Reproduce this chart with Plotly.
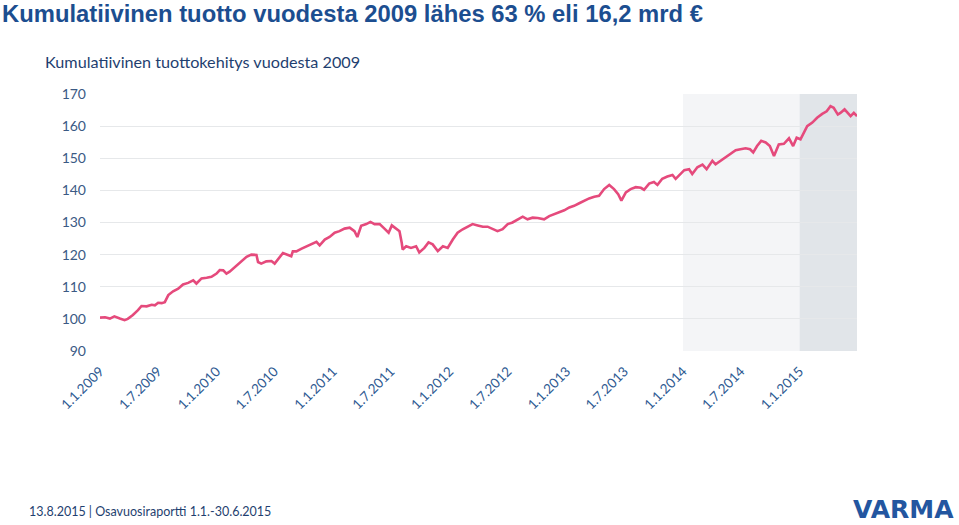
import plotly.graph_objects as go

# ---- data ----
dates = [
    "2009-01-01", "2009-01-17", "2009-02-01", "2009-02-15", "2009-03-04", "2009-03-19", "2009-03-29",
    "2009-04-14", "2009-04-30", "2009-05-11", "2009-05-27", "2009-06-12", "2009-06-22", "2009-07-02",
    "2009-07-13", "2009-07-23", "2009-08-03", "2009-08-18", "2009-09-03", "2009-09-18", "2009-10-04",
    "2009-10-20", "2009-10-30", "2009-11-15", "2009-12-01", "2009-12-16", "2010-01-01", "2010-01-11",
    "2010-01-22", "2010-02-01", "2010-02-11", "2010-02-22", "2010-03-04", "2010-03-20", "2010-04-05",
    "2010-04-20", "2010-05-06", "2010-05-11", "2010-05-21", "2010-06-06", "2010-06-22", "2010-07-02",
    "2010-07-13", "2010-07-28", "2010-08-13", "2010-08-23", "2010-08-28", "2010-09-08", "2010-09-23",
    "2010-10-09", "2010-10-25", "2010-11-10", "2010-11-20", "2010-12-06", "2010-12-21", "2011-01-06",
    "2011-01-21", "2011-02-06", "2011-02-22", "2011-03-09", "2011-03-18", "2011-03-30", "2011-04-15",
    "2011-04-28", "2011-05-11", "2011-05-27", "2011-06-11", "2011-06-24", "2011-07-04", "2011-07-18",
    "2011-07-28", "2011-08-04", "2011-08-07", "2011-08-18", "2011-09-02", "2011-09-18", "2011-09-28",
    "2011-10-14", "2011-10-27", "2011-11-09", "2011-11-25", "2011-12-11", "2011-12-26", "2012-01-11",
    "2012-01-26", "2012-02-11", "2012-02-27", "2012-03-13", "2012-03-29", "2012-04-14", "2012-04-29",
    "2012-05-15", "2012-05-30", "2012-06-15", "2012-07-01", "2012-07-16", "2012-08-01", "2012-08-17",
    "2012-09-01", "2012-09-17", "2012-10-03", "2012-10-23", "2012-11-08", "2012-11-24", "2012-12-09",
    "2012-12-25", "2013-01-10", "2013-01-25", "2013-02-10", "2013-02-26", "2013-03-13", "2013-03-29",
    "2013-04-13", "2013-04-29", "2013-05-15", "2013-05-30", "2013-06-12", "2013-06-22", "2013-07-06",
    "2013-07-21", "2013-08-06", "2013-08-22", "2013-09-01", "2013-09-17", "2013-10-02", "2013-10-13",
    "2013-10-28", "2013-11-13", "2013-11-29", "2013-12-09", "2013-12-20", "2014-01-05", "2014-01-20",
    "2014-01-30", "2014-02-15", "2014-03-03", "2014-03-16", "2014-04-03", "2014-04-13", "2014-04-29",
    "2014-05-15", "2014-05-30", "2014-06-15", "2014-06-30", "2014-07-16", "2014-07-30", "2014-08-09",
    "2014-08-21", "2014-09-03", "2014-09-17", "2014-09-30", "2014-10-13", "2014-10-28", "2014-11-13",
    "2014-11-29", "2014-12-12", "2014-12-23", "2015-01-04", "2015-01-15", "2015-01-25", "2015-02-10",
    "2015-02-25", "2015-03-13", "2015-03-27", "2015-04-08", "2015-04-18", "2015-05-01", "2015-05-09",
    "2015-05-22", "2015-06-01", "2015-06-10", "2015-06-20", "2015-06-30",
]
index_values = [
    100.4, 100.5, 100.1, 100.8, 100.1, 99.6, 100.0,
    101.2, 102.7, 104.0, 103.9, 104.4, 104.2, 105.0,
    104.9, 105.2, 107.4, 108.6, 109.4, 110.7, 111.2,
    112.0, 111.0, 112.6, 112.8, 113.1, 114.1, 115.2,
    115.1, 114.1, 114.7, 115.6, 116.6, 117.7, 119.3,
    120.0, 119.9, 117.7, 117.2, 117.9, 118.0, 117.2,
    118.7, 120.5, 119.9, 119.5, 121.0, 121.0, 121.8,
    122.6, 123.2, 124.0, 122.9, 124.7, 125.5, 126.8,
    127.3, 128.1, 128.4, 127.3, 125.5, 129.0, 129.5,
    130.2, 129.5, 129.5, 128.1, 126.8, 129.1, 127.9,
    127.3, 123.7, 121.6, 122.6, 122.1, 122.6, 120.7,
    122.1, 123.8, 123.2, 121.1, 122.6, 122.1, 124.7,
    126.8, 127.9, 128.7, 129.5, 129.1, 128.7, 128.7,
    127.9, 127.3, 127.9, 129.5, 130.0, 131.0, 131.8,
    131.0, 131.5, 131.4, 131.0, 132.0, 132.6, 133.3,
    133.8, 134.7, 135.2, 136.0, 136.8, 137.5, 138.0,
    138.3, 140.4, 141.7, 140.4, 138.8, 136.8, 139.4,
    140.4, 141.0, 140.8, 140.2, 142.1, 142.6, 141.7,
    143.6, 144.3, 144.8, 143.6, 144.6, 146.3, 146.6,
    145.1, 147.2, 148.0, 146.6, 149.2, 148.1, 149.2,
    150.4, 151.5, 152.5, 152.8, 153.1, 152.8, 151.8,
    153.8, 155.4, 154.9, 153.8, 150.7, 154.3, 154.5,
    156.2, 153.8, 156.4, 155.9, 158.0, 160.0, 161.1,
    162.6, 163.8, 164.6, 166.2, 165.7, 163.6, 164.1,
    165.2, 164.1, 163.1, 164.1, 163.1,
]

tick_dates = [
    "2009-01-01", "2009-07-01", "2010-01-01", "2010-07-01", "2011-01-01", "2011-07-01",
    "2012-01-01", "2012-07-01", "2013-01-01", "2013-07-01", "2014-01-01", "2014-07-01",
    "2015-01-01",
]
tick_labels = [
    "1.1.2009", "1.7.2009", "1.1.2010", "1.7.2010", "1.1.2011", "1.7.2011",
    "1.1.2012", "1.7.2012", "1.1.2013", "1.7.2013", "1.1.2014", "1.7.2014",
    "1.1.2015",
]
y_ticks = [90, 100, 110, 120, 130, 140, 150, 160, 170]

title_text = "Kumulatiivinen tuotto vuodesta 2009 lähes 63 % eli 16,2 mrd €"
subtitle_text = "Kumulatiivinen tuottokehitys vuodesta 2009"
footer_text = "13.8.2015 | Osavuosiraportti 1.1.-30.6.2015"
logo_text = "VARMA"

# ---- layout constants ----
W, H = 959, 525
ML, MR, MT, MB = 100, 102, 94, 174
PW = W - ML - MR
PH = H - MT - MB


def px_x(px):
    return (px - ML) / PW


def px_y(py):
    return (H - MB - py) / PH


fig = go.Figure()
fig.add_trace(go.Scatter(
    x=dates, y=index_values, mode="lines",
    line=dict(color="#E54A7C", width=2.6),
    hoverinfo="skip", showlegend=False,
))

fig.add_shape(type="rect", xref="x", yref="paper", x0="2014-01-01", x1="2015-01-01",
              y0=0, y1=1, fillcolor="#F4F5F7", line_width=0, layer="between")
fig.add_shape(type="rect", xref="x", yref="paper", x0="2015-01-01", x1="2015-06-30",
              y0=0, y1=1, fillcolor="#E1E5E9", line_width=0, layer="between")

tick_font = dict(family="Lato, Open Sans, sans-serif", size=14, color="#3B5A84")

fig.update_layout(
    width=W, height=H,
    margin=dict(l=ML, r=MR, t=MT, b=MB),
    paper_bgcolor="white", plot_bgcolor="white",
    xaxis=dict(
        type="date", range=["2009-01-01", "2015-06-30"],
        tickmode="array", tickvals=tick_dates, ticktext=tick_labels,
        tickangle=-45, showgrid=False, zeroline=False, showline=False,
        ticks="", tickfont=dict(family="Lato, Open Sans, sans-serif", size=13.5, color="#2E5A92"),
        ticklabelstandoff=9,
    ),
    yaxis=dict(
        range=[90, 170], tickmode="array", tickvals=y_ticks,
        showgrid=True, gridcolor="#E6E8EA", gridwidth=1, zeroline=False,
        showline=False, ticks="", tickfont=tick_font, ticklabelstandoff=13,
    ),
    annotations=[
        dict(text="<b>" + title_text + "</b>", xref="paper", yref="paper",
             x=px_x(0), y=px_y(13), xanchor="left", yanchor="middle", showarrow=False,
             font=dict(family="Liberation Sans, Arial, sans-serif", size=23.8, color="#1C4E90")),
        dict(text=subtitle_text, xref="paper", yref="paper",
             x=px_x(43), y=px_y(61), xanchor="left", yanchor="middle", showarrow=False,
             font=dict(family="Lato, Open Sans, sans-serif", size=16.2, color="#1F3F70")),
        dict(text=footer_text, xref="paper", yref="paper",
             x=px_x(27), y=px_y(511), xanchor="left", yanchor="middle", showarrow=False,
             font=dict(family="Lato, Open Sans, sans-serif", size=12.5, color="#1F3F70")),
        dict(text="<b>" + logo_text + "</b>", xref="paper", yref="paper",
             x=px_x(956), y=px_y(509), xanchor="right", yanchor="middle", showarrow=False,
             font=dict(family="DejaVu Sans, sans-serif", size=25, color="#2356A0")),
    ],
)

fig.write_html(
    "out.html",
    config={"displayModeBar": False},
    post_script="document.body.style.margin='0';document.body.style.overflow='hidden';",
)
